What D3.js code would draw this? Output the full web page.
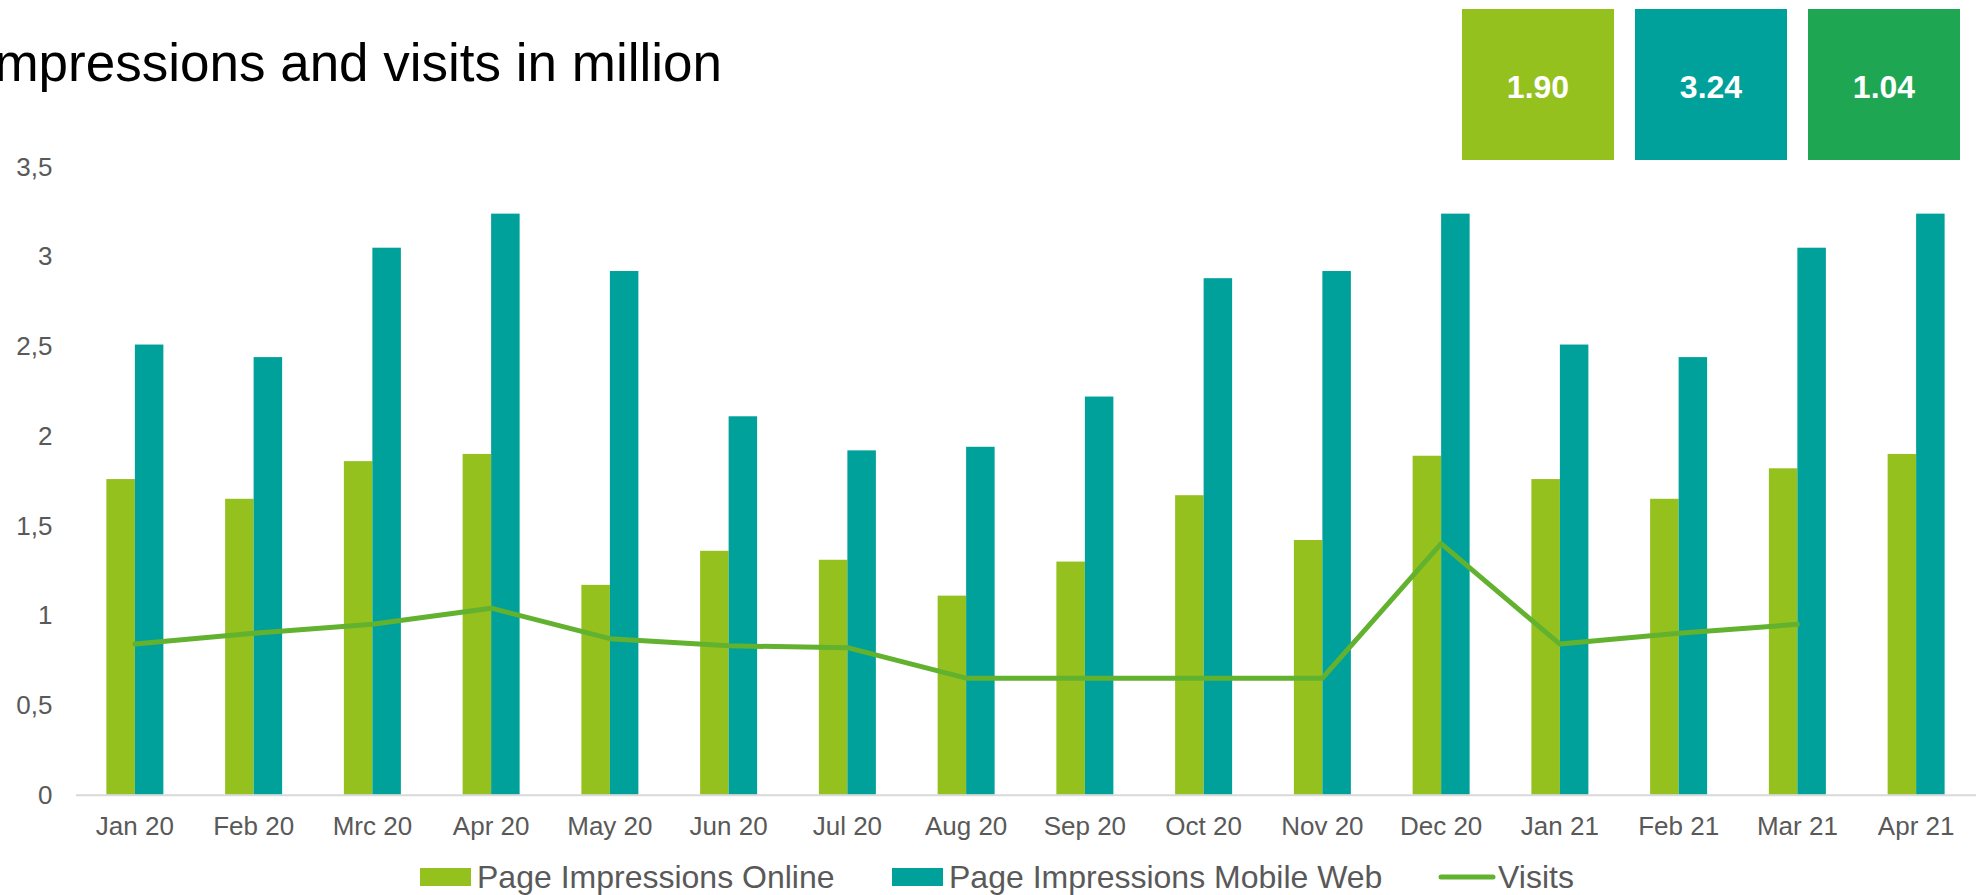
<!DOCTYPE html>
<html>
<head>
<meta charset="utf-8">
<title>Page impressions and visits</title>
<script src="https://d3js.org/d3.v7.min.js"></script>
<style>
  body { margin: 0; background: #fff; overflow: hidden; }
  svg { display: block; font-family: "Liberation Sans", Arial, sans-serif; }
</style>
</head>
<body>
<svg width="1977" height="895"></svg>
<script>
const months = ["Jan 20", "Feb 20", "Mrc 20", "Apr 20", "May 20", "Jun 20", "Jul 20", "Aug 20",
  "Sep 20", "Oct 20", "Nov 20", "Dec 20", "Jan 21", "Feb 21", "Mar 21", "Apr 21"];
const online = [1.76, 1.65, 1.86, 1.90, 1.17, 1.36, 1.31, 1.11, 1.30, 1.67, 1.42, 1.89, 1.76, 1.65, 1.82, 1.90];
const mobile = [2.51, 2.44, 3.05, 3.24, 2.92, 2.11, 1.92, 1.94, 2.22, 2.88, 2.92, 3.24, 2.51, 2.44, 3.05, 3.24];
const visits = [0.84, 0.90, 0.95, 1.04, 0.87, 0.83, 0.82, 0.65, 0.65, 0.65, 0.65, 1.40, 0.84, 0.90, 0.95, null];
const yTicks = [0, 0.5, 1, 1.5, 2, 2.5, 3, 3.5];
const kpis = ["1.90", "3.24", "1.04"];

const cOnline = "#95c11f", cMobile = "#00a19a", cVisits = "#62b22f", cKpi3 = "#1ea652";
const textGrey = "#595959";

const svg = d3.select("svg");

const x = d3.scaleBand().domain(months).range([75.5, 1975.5]).padding(0);
const y = d3.scaleLinear().domain([0, 3.5]).range([794.7, 167]);
const barW = 28.5;
const x1 = d3.scaleBand().domain(["online", "mobile"]).range([-barW, barW]);

// title (starts left of the visible area, like the original)
svg.append("text")
  .attr("x", 722).attr("y", 81)
  .attr("text-anchor", "end")
  .attr("font-size", 53)
  .attr("fill", "#000")
  .text("Page Impressions and visits in million");

// kpi boxes
const boxColors = [cOnline, cMobile, cKpi3];
const boxX = d3.scaleBand().domain(d3.range(3)).range([1462, 1960]).paddingInner(0.1214);
const box = svg.append("g").selectAll("g").data(kpis).join("g")
  .attr("transform", (d, i) => `translate(${boxX(i)},9)`);
box.append("rect")
  .attr("width", boxX.bandwidth()).attr("height", 151)
  .attr("fill", (d, i) => boxColors[i]);
box.append("text")
  .attr("x", boxX.bandwidth() / 2).attr("y", 77)
  .attr("dy", "0.36em")
  .attr("text-anchor", "middle")
  .attr("font-size", 32).attr("font-weight", "bold")
  .attr("fill", "#fff")
  .text(d => d);

// y axis
const yAxis = svg.append("g")
  .attr("transform", "translate(75.5,0)")
  .call(d3.axisLeft(y).tickValues(yTicks).tickSize(0).tickPadding(23)
    .tickFormat(d => String(d).replace(".", ",")));
yAxis.select(".domain").remove();
yAxis.selectAll("text").attr("font-size", 26).attr("fill", textGrey)
  .attr("font-family", "Liberation Sans, Arial, sans-serif");

// bars
const g = svg.append("g");
g.selectAll("rect.on").data(months).join("rect").attr("class", "on")
  .attr("x", (d) => x(d) + x.bandwidth() / 2 + x1("online"))
  .attr("width", x1.bandwidth())
  .attr("y", (d, i) => y(online[i]))
  .attr("height", (d, i) => y(0) - y(online[i]))
  .attr("fill", cOnline);
g.selectAll("rect.mo").data(months).join("rect").attr("class", "mo")
  .attr("x", (d) => x(d) + x.bandwidth() / 2 + x1("mobile"))
  .attr("width", x1.bandwidth())
  .attr("y", (d, i) => y(mobile[i]))
  .attr("height", (d, i) => y(0) - y(mobile[i]))
  .attr("fill", cMobile);

// x axis
const xAxis = svg.append("g")
  .attr("transform", `translate(0,${y(0)})`)
  .call(d3.axisBottom(x).tickSize(0).tickPadding(22));
xAxis.select(".domain").attr("stroke", "#d9d9d9").attr("stroke-width", 2);
xAxis.selectAll("text").attr("font-size", 26).attr("fill", textGrey)
  .attr("font-family", "Liberation Sans, Arial, sans-serif");

// visits line
const line = d3.line()
  .defined(d => d.v != null)
  .x(d => x(d.m) + x.bandwidth() / 2)
  .y(d => y(d.v));
svg.append("path")
  .datum(months.map((m, i) => ({ m, v: visits[i] })))
  .attr("d", line)
  .attr("fill", "none")
  .attr("stroke", cVisits)
  .attr("stroke-width", 5)
  .attr("stroke-linejoin", "round")
  .attr("stroke-linecap", "round");

// legend
const legend = svg.append("g").attr("font-size", 32).attr("fill", textGrey);
const items = [
  { label: "Page Impressions Online", color: cOnline, type: "rect", x: 420 },
  { label: "Page Impressions Mobile Web", color: cMobile, type: "rect", x: 892 },
  { label: "Visits", color: cVisits, type: "line", x: 1441 }
];
items.forEach(it => {
  if (it.type === "rect") {
    legend.append("rect").attr("x", it.x).attr("y", 868).attr("width", 51).attr("height", 18).attr("fill", it.color);
  } else {
    legend.append("line").attr("x1", it.x).attr("x2", it.x + 52).attr("y1", 877).attr("y2", 877)
      .attr("stroke", it.color).attr("stroke-width", 5).attr("stroke-linecap", "round");
  }
  legend.append("text").attr("x", it.x + 57).attr("y", 888).text(it.label);
});
</script>
</body>
</html>
